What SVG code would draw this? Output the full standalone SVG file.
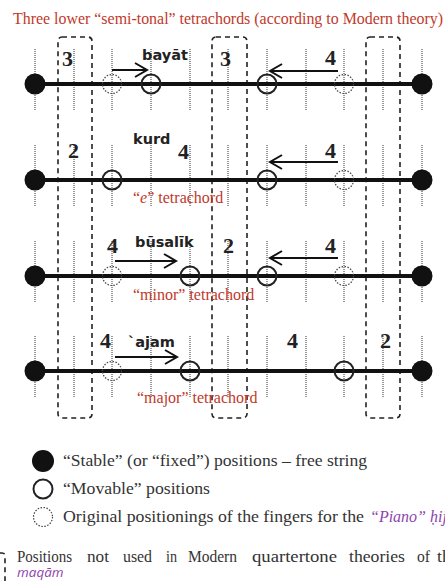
<svg xmlns="http://www.w3.org/2000/svg" width="445" height="581" viewBox="0 0 445 581">
<defs>
<style>
.title{font-family:"Liberation Serif",serif;font-size:16px;fill:#c0392b}
.red{font-family:"Liberation Serif",serif;font-size:16px;fill:#c0392b}
.num{font-family:"Liberation Serif",serif;font-size:22px;font-weight:bold;fill:#222}
.mq{font-family:"DejaVu Sans",sans-serif;font-size:14.5px;font-weight:bold;fill:#222}
.leg{font-family:"Liberation Serif",serif;font-size:16px;fill:#333}
.pur{fill:#8e44ad;font-style:italic}
.dot{stroke:#333;stroke-width:1;stroke-dasharray:1 1;fill:none}
.dash{stroke:#222;stroke-width:1.6;stroke-dasharray:5 4;fill:none}
.str{stroke:#111;stroke-width:4}
.fix{fill:#111}
.mov{fill:none;stroke:#222;stroke-width:2}
.orig{fill:none;stroke:#444;stroke-width:1.2;stroke-dasharray:1.5 1.5}
.arr{stroke:#111;stroke-width:2;fill:none;marker-end:url(#ah)}
</style>
<marker id="ah" markerUnits="userSpaceOnUse" viewBox="-14 -9 16 18" markerWidth="16" markerHeight="18" refX="0" refY="0" orient="auto">
<path d="M-12,-7 L0,0 L-12,7" fill="none" stroke="#111" stroke-width="2"/>
</marker>
<g id="vl">
<line class="dot" x1="35" y1="-35" x2="35" y2="27"/>
<line class="dot" x1="74" y1="-35" x2="74" y2="27"/>
<line class="dot" x1="112" y1="-35" x2="112" y2="27"/>
<line class="dot" x1="151" y1="-35" x2="151" y2="27"/>
<line class="dot" x1="190" y1="-35" x2="190" y2="27"/>
<line class="dot" x1="228" y1="-35" x2="228" y2="27"/>
<line class="dot" x1="267" y1="-35" x2="267" y2="27"/>
<line class="dot" x1="306" y1="-35" x2="306" y2="27"/>
<line class="dot" x1="344" y1="-35" x2="344" y2="27"/>
<line class="dot" x1="383" y1="-35" x2="383" y2="27"/>
<line class="dot" x1="422" y1="-35" x2="422" y2="27"/>
<line class="str" x1="35" y1="0" x2="422" y2="0"/>
</g>
</defs>
<rect width="445" height="581" fill="#fff"/>
<text class="title" x="13" y="24" textLength="430" lengthAdjust="spacingAndGlyphs">Three lower “semi-tonal” tetrachords (according to Modern theory)</text>

<g id="unused-positions">
<rect class="dash" x="58" y="37" width="34" height="381" rx="4"/>
<rect class="dash" x="212" y="37" width="35" height="381" rx="4"/>
<rect class="dash" x="366" y="37" width="34" height="381" rx="4"/>
</g>

<g id="row-bayat">
<use href="#vl" y="84"/>
<circle class="fix" cx="35" cy="84" r="10.5"/>
<circle class="orig" cx="112" cy="84" r="9.5"/>
<circle class="mov" cx="151" cy="84" r="9.5"/>
<circle class="mov" cx="267" cy="84" r="9.5"/>
<circle class="orig" cx="344" cy="84" r="9.5"/>
<circle class="fix" cx="422" cy="84" r="10.5"/>
<text class="num" x="62" y="66">3</text>
<text class="mq" x="142" y="60">bayāt</text>
<text class="num" x="220" y="66">3</text>
<text class="num" x="325" y="65">4</text>
</g>

<g id="row-kurd">
<use href="#vl" y="180"/>
<circle class="fix" cx="35" cy="180" r="10.5"/>
<circle class="mov" cx="112" cy="180" r="9.5"/>
<circle class="mov" cx="267" cy="180" r="9.5"/>
<circle class="orig" cx="344" cy="180" r="9.5"/>
<circle class="fix" cx="422" cy="180" r="10.5"/>
<text class="num" x="68" y="158">2</text>
<text class="mq" x="133" y="144">kurd</text>
<text class="num" x="178" y="159">4</text>
<text class="num" x="325" y="158">4</text>
<text class="red" x="133" y="203">“<tspan font-style="italic">e</tspan>” tetrachord</text>
</g>

<g id="row-busalik">
<use href="#vl" y="276"/>
<circle class="fix" cx="35" cy="276" r="10.5"/>
<circle class="orig" cx="112" cy="276" r="9.5"/>
<circle class="mov" cx="190" cy="276" r="9.5"/>
<circle class="mov" cx="267" cy="276" r="9.5"/>
<circle class="orig" cx="344" cy="276" r="9.5"/>
<circle class="fix" cx="422" cy="276" r="10.5"/>
<text class="num" x="107" y="253">4</text>
<text class="mq" x="135" y="247">būsalīk</text>
<text class="num" x="223" y="253">2</text>
<text class="num" x="325" y="253">4</text>
<text class="red" x="133" y="300">“minor” tetrachord</text>
</g>

<g id="row-ajam">
<use href="#vl" y="371"/>
<circle class="fix" cx="35" cy="371" r="10.5"/>
<circle class="orig" cx="112" cy="371" r="9.5"/>
<circle class="mov" cx="190" cy="371" r="9.5"/>
<circle class="mov" cx="344" cy="371" r="9.5"/>
<circle class="fix" cx="422" cy="371" r="10.5"/>
<text class="num" x="100" y="348">4</text>
<text class="mq" x="128" y="347">`ajam</text>
<text class="num" x="287" y="348">4</text>
<text class="num" x="380" y="348">2</text>
<text class="red" x="137" y="403">“major” tetrachord</text>
</g>

<g id="connectors">
<line class="arr" x1="112" y1="70" x2="147" y2="70"/>
<line class="arr" x1="338" y1="71" x2="270" y2="71"/>
<line class="arr" x1="338" y1="162" x2="270" y2="162"/>
<line class="arr" x1="115" y1="261" x2="176" y2="261"/>
<line class="arr" x1="338" y1="258" x2="270" y2="258"/>
<line class="arr" x1="115" y1="357" x2="177" y2="357"/>
</g>

<g id="legend">
<circle class="fix" cx="43" cy="461" r="11"/>
<text class="leg" x="63" y="466" textLength="304" lengthAdjust="spacingAndGlyphs">“Stable” (or “fixed”) positions – free string</text>
<circle class="mov" cx="43" cy="489" r="9.5"/>
<text class="leg" x="63" y="494" textLength="147" lengthAdjust="spacingAndGlyphs">“Movable” positions</text>
<circle class="orig" cx="43" cy="517" r="9.5"/>
<text class="leg" x="63" y="522" textLength="301" lengthAdjust="spacingAndGlyphs">Original positionings of the fingers for the</text>
<text class="leg pur" x="370" y="522">“Piano” ḥijāz</text>
<path class="dash" d="M0,553 H2 Q5,553 5,556 V581"/>
<text class="leg" y="562" font-size="15"><tspan x="17" textLength="55" lengthAdjust="spacingAndGlyphs">Positions</tspan><tspan x="87" textLength="22" lengthAdjust="spacingAndGlyphs">not</tspan><tspan x="123" textLength="29" lengthAdjust="spacingAndGlyphs">used</tspan><tspan x="166" textLength="11" lengthAdjust="spacingAndGlyphs">in</tspan><tspan x="188" textLength="49" lengthAdjust="spacingAndGlyphs">Modern</tspan><tspan x="252" textLength="85" lengthAdjust="spacingAndGlyphs">quartertone</tspan><tspan x="349" textLength="56" lengthAdjust="spacingAndGlyphs">theories</tspan><tspan x="417" textLength="13" lengthAdjust="spacingAndGlyphs">of</tspan><tspan x="437" textLength="22" lengthAdjust="spacingAndGlyphs">the</tspan></text>
<text x="17" y="577" font-family="'Open Sans',sans-serif" font-size="13.5" font-style="italic" fill="#8e44ad">maqām</text>
</g>
</svg>
